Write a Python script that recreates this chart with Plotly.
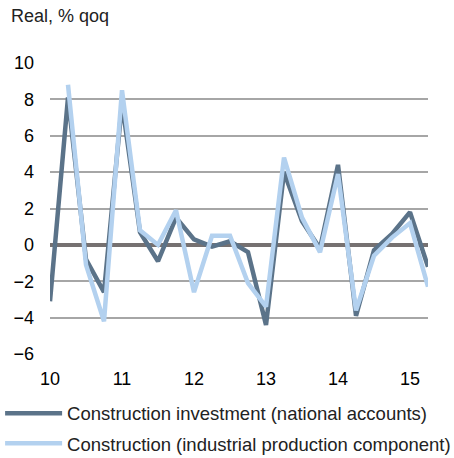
import plotly.graph_objects as go

quarters = list(range(22))  # 2010Q1 .. 2015Q2
tick_pos = [0, 4, 8, 12, 16, 20]
tick_labels = ["10", "11", "12", "13", "14", "15"]

national_accounts = [-3.1, 8.1, -0.8, -2.6, 7.8, 0.7, -0.9, 1.5, 0.3, -0.1, 0.2,
                     -0.4, -4.4, 4.0, 1.3, -0.2, 4.4, -3.9, -0.3, 0.6, 1.8, -1.2]
industrial_prod = [None, 8.8, -1.1, -4.2, 8.5, 0.8, 0.0, 1.9, -2.6, 0.5, 0.5,
                   -2.1, -3.4, 4.8, 1.5, -0.4, 3.9, -3.6, -0.6, 0.4, 1.2, -2.3]

fig = go.Figure()
fig.add_trace(go.Scatter(
    x=quarters, y=national_accounts, mode="lines",
    name="Construction investment (national accounts)",
    line=dict(color="#5b7389", width=4.5), legendgroup="a"))
fig.add_trace(go.Scatter(
    x=quarters, y=industrial_prod, mode="lines",
    name="Construction (industrial production component)",
    line=dict(color="#b3d1ef", width=4.5), legendgroup="b"))

fig.update_layout(
    width=454, height=458,
    margin=dict(l=50, r=26, t=63, b=104, autoexpand=False),
    paper_bgcolor="white", plot_bgcolor="white",
    font=dict(family="Liberation Sans, Arial, sans-serif", size=18, color="#000000"),
    showlegend=True,
    legend=dict(x=-0.132, y=-0.14, xanchor="left", yanchor="top",
                traceorder="grouped", tracegroupgap=3, itemwidth=57,
                font=dict(size=18.5, color="#222222"), bgcolor="rgba(0,0,0,0)"),
    annotations=[dict(text="Real, % qoq", xref="paper", yref="paper",
                      x=-0.108, y=1.16, xanchor="left", yanchor="middle",
                      showarrow=False, font=dict(size=18, color="#222222"))],
)
fig.update_xaxes(range=[0, 21], tickvals=tick_pos, ticktext=tick_labels,
                 showgrid=False, zeroline=False, showline=False, ticks="",
                 tickfont=dict(size=18), ticklabelstandoff=12)
fig.update_yaxes(range=[-6, 10], dtick=2, showgrid=True, gridcolor="#a6a6a6",
                 gridwidth=1.5, zeroline=True, zerolinecolor="#767171",
                 zerolinewidth=3.5, showline=False, ticks="",
                 tickfont=dict(size=18), ticklabelstandoff=15)

fig.write_html("out.html", config={"displayModeBar": False},
               post_script="document.body.style.margin='0';document.body.style.overflow='hidden';")
